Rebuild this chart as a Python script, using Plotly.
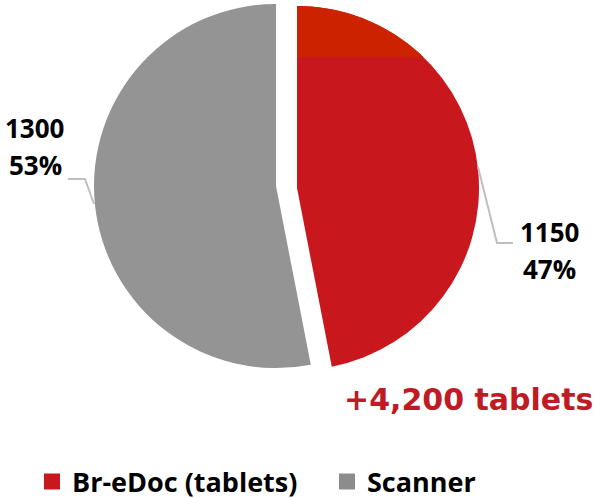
import math
import plotly.graph_objects as go

W, H = 595, 498

labels = ["Br-eDoc (tablets)", "Scanner"]
values = [1150, 1300]
colors = ["#C9171E", "#949494"]
legend_colors = ["#C9171E", "#8C8C8C"]
callout = "+4,200 tablets"

total = sum(values)
pcts = [round(v / total * 100) for v in values]

FONT = "Open Sans"

def px_x(x):
    return x / W

def px_y(y):
    return 1 - y / H

# pie geometry (pixels)
R = 182
CX, CY = 276, 186
DX, DY = 21, 2  # exploded red slice offset

def dom(cx, cy, r):
    return dict(x=[px_x(cx - r), px_x(cx + r)], y=[max(0, px_y(cy + r)), min(1, px_y(cy - r))])

fig = go.Figure()

# Gray (Scanner) slice
fig.add_trace(go.Pie(
    labels=labels, values=values, sort=False, direction="clockwise", rotation=0,
    marker=dict(colors=["rgba(0,0,0,0)", colors[1]], line=dict(width=0)),
    textinfo="none", hoverinfo="label+value+percent", showlegend=False,
    domain=dom(CX, CY, R),
))
# Red (Br-eDoc) slice, exploded
fig.add_trace(go.Pie(
    labels=labels, values=values, sort=False, direction="clockwise", rotation=0,
    marker=dict(colors=[colors[0], "rgba(0,0,0,0)"], line=dict(width=0)),
    textinfo="none", hoverinfo="label+value+percent", showlegend=False,
    domain=dom(CX + DX, CY + DY, R),
))

# legend entries (two legends so spacing matches)
for i, (lab, col) in enumerate(zip(labels, legend_colors)):
    fig.add_trace(go.Scatter(
        x=[None], y=[None], mode="markers", name=lab,
        marker=dict(symbol="square", size=16, color=col),
        showlegend=True, legend="legend" if i == 0 else "legend2",
    ))

lab_font = dict(family=FONT, size=26, color="#000000", weight="bold")
annotations = []
def add_text(x, y, text, font, xanchor="center"):
    annotations.append(dict(x=px_x(x), y=px_y(y), xref="paper", yref="paper",
                            text=text, showarrow=False, font=font,
                            xanchor=xanchor, yanchor="middle"))

# Scanner label (left)
add_text(34, 128, f"{values[1]}", lab_font)
add_text(35, 165, f"{pcts[1]}%", lab_font)
# Br-eDoc label (right)
add_text(549, 232, f"{values[0]}", lab_font)
add_text(549, 269, f"{pcts[0]}%", lab_font)
# callout
add_text(595, 399, callout,
         dict(family="DejaVu Sans", size=30, color="#C01A24", weight="bold"),
         xanchor="right")

# tinted band at the top of the exploded slice (as in the source image)
rcx, rcy = CX + DX, CY + DY
band_y = 57
pts = []
a0 = 0.0
a1 = math.acos((rcy - band_y) / R)
n = 30
for k in range(n + 1):
    a = a0 + (a1 - a0) * k / n
    pts.append((rcx + R * math.sin(a), rcy - R * math.cos(a)))
band_path = f"M {px_x(rcx)},{px_y(band_y)} L {px_x(rcx)},{px_y(rcy - R)} " + " ".join(
    f"L {px_x(x)},{px_y(y)}" for x, y in pts) + " Z"

line_style = dict(color="#BFBFBF", width=2)
shapes = [
    dict(type="path", xref="paper", yref="paper", path=band_path,
         fillcolor="#CC2200", line=dict(width=0), layer="above"),
    dict(type="path", xref="paper", yref="paper",
         path=f"M {px_x(68)},{px_y(179)} L {px_x(85)},{px_y(179)} L {px_x(94)},{px_y(204)}",
         line=line_style),
    dict(type="path", xref="paper", yref="paper",
         path=f"M {px_x(478)},{px_y(167)} L {px_x(497)},{px_y(243)} L {px_x(513)},{px_y(243)}",
         line=line_style),
]

leg_font = dict(family=FONT, size=27, color="#000000", weight="bold")
fig.update_layout(
    width=W, height=H,
    margin=dict(l=0, r=0, t=0, b=0, autoexpand=False),
    paper_bgcolor="white", plot_bgcolor="white",
    xaxis=dict(visible=False), yaxis=dict(visible=False),
    annotations=annotations, shapes=shapes,
    legend=dict(orientation="h", x=px_x(32), xanchor="left", y=-0.017, yanchor="bottom",
                font=leg_font, itemsizing="trace", bgcolor="rgba(0,0,0,0)"),
    legend2=dict(orientation="h", x=px_x(327), xanchor="left", y=-0.017, yanchor="bottom",
                 font=leg_font, itemsizing="trace", bgcolor="rgba(0,0,0,0)"),
)

fig.write_html("out.html", config={"displayModeBar": False},
               post_script="document.body.style.margin='0';document.body.style.overflow='hidden';")
